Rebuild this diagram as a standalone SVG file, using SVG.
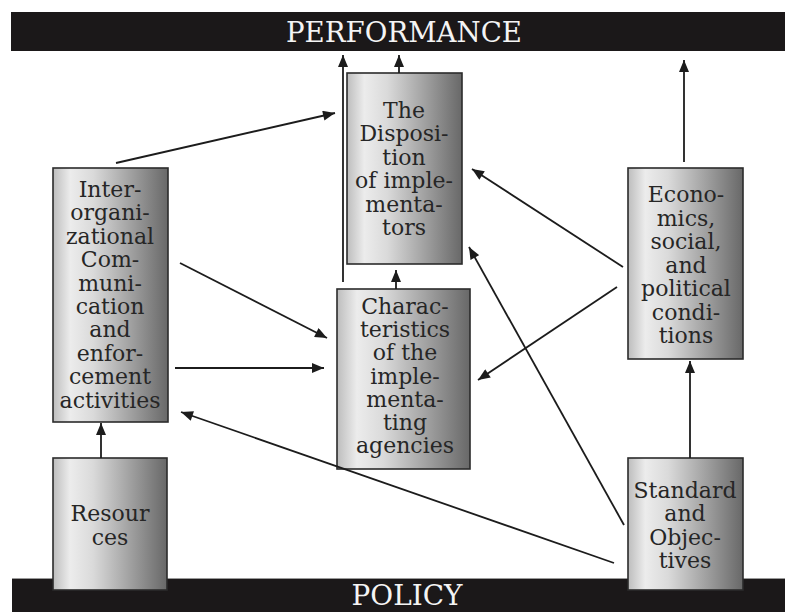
<svg xmlns="http://www.w3.org/2000/svg" width="785" height="612" viewBox="0 0 785 612">
<style>
.bar{fill:#1b1819}
.bartext{fill:#f4f4f4;font-family:"DejaVu Serif","Liberation Serif",serif;font-size:27px;text-anchor:middle}
.box{fill:url(#boxgrad);stroke:#2b2b2b;stroke-width:1.6}
.lbl{fill:#262626;font-family:"DejaVu Serif","Liberation Serif",serif;font-size:22px;text-anchor:middle}
.conn{stroke:#1c1c1c;stroke-width:1.8;fill:none;marker-end:url(#arrow)}
</style>
<defs>
<linearGradient id="boxgrad" x1="0" y1="0" x2="1" y2="0">
<stop offset="0" stop-color="#bdbdbd"/>
<stop offset="0.15" stop-color="#ececec"/>
<stop offset="0.35" stop-color="#dadada"/>
<stop offset="1" stop-color="#686868"/>
</linearGradient>
<marker id="arrow" viewBox="0 0 12 10" refX="12" refY="5" markerWidth="13" markerHeight="10" markerUnits="userSpaceOnUse" orient="auto">
<path d="M0,0 L12,5 L0,10 z" fill="#1c1c1c"/>
</marker>
</defs>

<g id="performance">
<rect class="bar" x="11" y="12" width="774" height="39"/>
<text class="bartext" x="404" y="42" textLength="236" lengthAdjust="spacingAndGlyphs">PERFORMANCE</text>
</g>
<g id="policy">
<rect class="bar" x="12" y="578" width="773" height="34"/>
<line x1="12" y1="578.5" x2="785" y2="578.5" stroke="#9a9a9a" stroke-width="1"/>
<text class="bartext" x="407" y="605" textLength="111" lengthAdjust="spacingAndGlyphs">POLICY</text>
</g>

<g id="interorg">
<rect class="box" x="53" y="168" width="115" height="254"/>
<text class="lbl" x="110" y="197"><tspan x="110">Inter-</tspan><tspan x="110" dy="23.4">organi-</tspan><tspan x="110" dy="23.4">zational</tspan><tspan x="110" dy="23.4">Com-</tspan><tspan x="110" dy="23.4">muni-</tspan><tspan x="110" dy="23.4">cation</tspan><tspan x="110" dy="23.4">and</tspan><tspan x="110" dy="23.4">enfor-</tspan><tspan x="110" dy="23.4">cement</tspan><tspan x="110" dy="23.4">activities</tspan></text>
</g>

<g id="disposition">
<rect class="box" x="347" y="73" width="115" height="191"/>
<text class="lbl" x="404" y="118"><tspan x="404">The</tspan><tspan x="404" dy="23.4">Disposi-</tspan><tspan x="404" dy="23.4">tion</tspan><tspan x="404" dy="23.4">of imple-</tspan><tspan x="404" dy="23.4">menta-</tspan><tspan x="404" dy="23.4">tors</tspan></text>
</g>

<g id="characteristics">
<rect class="box" x="337" y="289" width="133" height="180"/>
<text class="lbl" x="405" y="314"><tspan x="405">Charac-</tspan><tspan x="405" dy="23.2">teristics</tspan><tspan x="405" dy="23.2">of the</tspan><tspan x="405" dy="23.2">imple-</tspan><tspan x="405" dy="23.2">menta-</tspan><tspan x="405" dy="23.2">ting</tspan><tspan x="405" dy="23.2">agencies</tspan></text>
</g>

<g id="economics">
<rect class="box" x="628" y="168" width="115" height="191"/>
<text class="lbl" x="686" y="202"><tspan x="686">Econo-</tspan><tspan x="686" dy="23.5">mics,</tspan><tspan x="686" dy="23.5">social,</tspan><tspan x="686" dy="23.5">and</tspan><tspan x="686" dy="23.5">political</tspan><tspan x="686" dy="23.5">condi-</tspan><tspan x="686" dy="23.5">tions</tspan></text>
</g>

<g id="resources">
<rect class="box" x="53" y="458" width="114" height="132"/>
<text class="lbl" x="110" y="521"><tspan x="110">Resour</tspan><tspan x="110" dy="24">ces</tspan></text>
</g>

<g id="standard">
<rect class="box" x="628" y="458" width="115" height="132"/>
<text class="lbl" x="685" y="498"><tspan x="685">Standard</tspan><tspan x="685" dy="23.3">and</tspan><tspan x="685" dy="23.3">Objec-</tspan><tspan x="685" dy="23.3">tives</tspan></text>
</g>

<g id="connectors">
<line class="conn" x1="101" y1="458" x2="101" y2="423"/>
<line class="conn" x1="690" y1="458" x2="690" y2="361"/>
<line class="conn" x1="684" y1="162" x2="684" y2="60"/>
<line class="conn" x1="399" y1="73" x2="399" y2="55"/>
<line class="conn" x1="343" y1="282" x2="343" y2="55"/>
<line class="conn" x1="396" y1="289" x2="396" y2="270"/>
<line class="conn" x1="116" y1="163" x2="335" y2="113"/>
<line class="conn" x1="180" y1="263" x2="327" y2="338"/>
<line class="conn" x1="175" y1="368" x2="324" y2="368"/>
<line class="conn" x1="623" y1="267" x2="472" y2="169"/>
<line class="conn" x1="617" y1="287" x2="478" y2="380"/>
<line class="conn" x1="624" y1="525" x2="469" y2="247"/>
<line class="conn" x1="614" y1="563" x2="181" y2="412"/>
</g>
</svg>
